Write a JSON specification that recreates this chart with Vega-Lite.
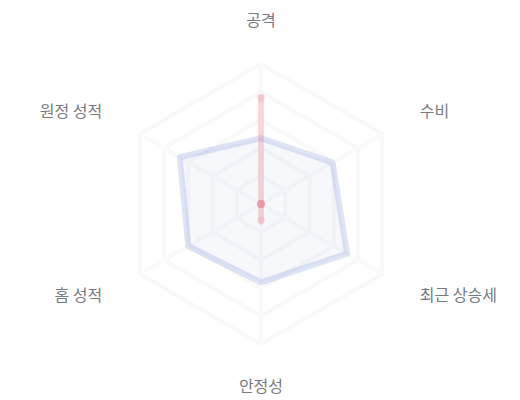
{
  "$schema": "https://vega.github.io/schema/vega-lite/v6.json",
  "width": 520,
  "height": 400,
  "padding": 0,
  "autosize": {"type": "none"},
  "config": {"view": {"stroke": null}, "text": {"font": "Noto Sans CJK KR"}},
  "datasets": {
    "axes": [
      {"axis": "공격", "k": 0},
      {"axis": "수비", "k": 1},
      {"axis": "최근 상승세", "k": 2},
      {"axis": "안정성", "k": 3},
      {"axis": "홈 성적", "k": 4},
      {"axis": "원정 성적", "k": 5}
    ],
    "rings": [
      {"level": 0.2, "k": [0, 1, 2, 3, 4, 5]},
      {"level": 0.4, "k": [0, 1, 2, 3, 4, 5]},
      {"level": 0.6, "k": [0, 1, 2, 3, 4, 5]},
      {"level": 0.8, "k": [0, 1, 2, 3, 4, 5]},
      {"level": 1.0, "k": [0, 1, 2, 3, 4, 5]}
    ],
    "scores": [
      {"team": "팀 A", "axis": "공격", "value": 47},
      {"team": "팀 A", "axis": "수비", "value": 59},
      {"team": "팀 A", "axis": "최근 상승세", "value": 71},
      {"team": "팀 A", "axis": "안정성", "value": 56},
      {"team": "팀 A", "axis": "홈 성적", "value": 60},
      {"team": "팀 A", "axis": "원정 성적", "value": 67},
      {"team": "팀 B", "axis": "공격", "value": 76},
      {"team": "팀 B", "axis": "수비", "value": 0},
      {"team": "팀 B", "axis": "최근 상승세", "value": 0},
      {"team": "팀 B", "axis": "안정성", "value": 12},
      {"team": "팀 B", "axis": "홈 성적", "value": 0},
      {"team": "팀 B", "axis": "원정 성적", "value": 0}
    ]
  },
  "encoding": {
    "x": {"field": "x", "type": "quantitative", "axis": null,
          "scale": {"domain": [-1.864, 1.85], "zero": false, "nice": false}},
    "y": {"field": "y", "type": "quantitative", "axis": null,
          "scale": {"domain": [-1.4, 1.457], "zero": false, "nice": false}}
  },
  "layer": [
    {
      "data": {"name": "rings"},
      "transform": [
        {"flatten": ["k"]},
        {"calculate": "datum.level * sin(datum.k * PI / 3)", "as": "x"},
        {"calculate": "datum.level * cos(datum.k * PI / 3)", "as": "y"}
      ],
      "mark": {"type": "line", "interpolate": "linear-closed", "stroke": "#f9f9fa", "strokeWidth": 4},
      "encoding": {"detail": {"field": "level"}, "order": {"field": "k"}}
    },
    {
      "data": {"name": "axes"},
      "transform": [
        {"calculate": "sin(datum.k * PI / 3)", "as": "x"},
        {"calculate": "cos(datum.k * PI / 3)", "as": "y"}
      ],
      "mark": {"type": "rule", "stroke": "#fafafb", "strokeWidth": 4},
      "encoding": {"x2": {"datum": 0}, "y2": {"datum": 0}}
    },
    {
      "data": {"name": "scores"},
      "transform": [
        {"lookup": "axis", "from": {"data": {"name": "axes"}, "key": "axis", "fields": ["k"]}},
        {"calculate": "datum.value / 100 * sin(datum.k * PI / 3)", "as": "x"},
        {"calculate": "datum.value / 100 * cos(datum.k * PI / 3)", "as": "y"}
      ],
      "layer": [
        {
          "mark": {"type": "line", "interpolate": "linear-closed", "strokeWidth": 6, "strokeOpacity": 0.18, "fillOpacity": 0.05, "fill": "#5470c6", "strokeJoin": "round"},
          "encoding": {
            "color": {"field": "team", "type": "nominal", "legend": null,
                      "scale": {"domain": ["팀 A", "팀 B"], "range": ["#5470c6", "#ee3344"]}},
            "order": {"field": "k"}
          }
        },
        {
          "transform": [{"filter": "datum.team == '팀 B'"}],
          "mark": {"type": "circle", "size": 70, "opacity": 0.1},
          "encoding": {
            "color": {"field": "team", "type": "nominal", "legend": null,
                      "scale": {"domain": ["팀 A", "팀 B"], "range": ["#5470c6", "#ee3344"]}}
          }
        }
      ]
    },
    {
      "data": {"name": "axes"},
      "transform": [
        {"filter": "datum.k == 0 || datum.k == 3"},
        {"calculate": "1.31 * sin(datum.k * PI / 3)", "as": "x"},
        {"calculate": "1.31 * cos(datum.k * PI / 3)", "as": "y"}
      ],
      "mark": {"type": "text", "align": "center", "baseline": "middle", "fontSize": 16, "color": "#777a82"},
      "encoding": {"text": {"field": "axis"}}
    },
    {
      "data": {"name": "axes"},
      "transform": [
        {"filter": "datum.k == 1 || datum.k == 2"},
        {"calculate": "1.31 * sin(datum.k * PI / 3)", "as": "x"},
        {"calculate": "1.31 * cos(datum.k * PI / 3)", "as": "y"}
      ],
      "mark": {"type": "text", "align": "left", "baseline": "middle", "fontSize": 16, "color": "#777a82"},
      "encoding": {"text": {"field": "axis"}}
    },
    {
      "data": {"name": "axes"},
      "transform": [
        {"filter": "datum.k == 4 || datum.k == 5"},
        {"calculate": "1.31 * sin(datum.k * PI / 3)", "as": "x"},
        {"calculate": "1.31 * cos(datum.k * PI / 3)", "as": "y"}
      ],
      "mark": {"type": "text", "align": "right", "baseline": "middle", "fontSize": 16, "color": "#777a82"},
      "encoding": {"text": {"field": "axis"}}
    }
  ]
}
